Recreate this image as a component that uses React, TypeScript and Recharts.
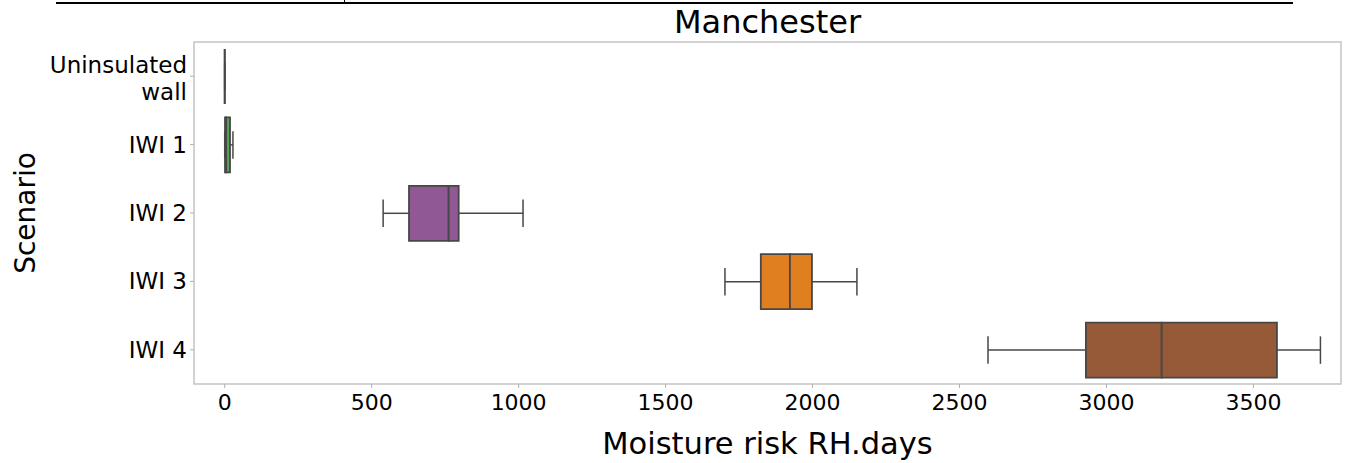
import { Bar, BarChart, Label, ReferenceArea, XAxis, YAxis } from "recharts";

// Box statistics (moisture risk, RH.days)
const scenarios = ["Uninsulated\nwall", "IWI 1", "IWI 2", "IWI 3", "IWI 4"];
const whiskerLow = [0, 0, 539, 1702, 2597];
const quartile1 = [0, 1, 627, 1824, 2930];
const medians = [0, 5, 762, 1923, 3188];
const quartile3 = [0, 18, 796, 1998, 3580];
const whiskerHigh = [0, 28, 1015, 2151, 3728];
const boxColors = ["#477ca8", "#59a257", "#905895", "#df7f20", "#965a38"];
const xTicks = [0, 500, 1000, 1500, 2000, 2500, 3000, 3500];

const EDGE = "#474747";
const FONT = "DejaVu Sans";

const data = scenarios.map((scenario, i) => ({
  scenario,
  base: whiskerLow[i],
  whiskLo: quartile1[i] - whiskerLow[i],
  boxLo: medians[i] - quartile1[i],
  boxHi: quartile3[i] - medians[i],
  whiskHi: whiskerHigh[i] - quartile3[i],
  color: boxColors[i],
}));

function WhiskerLow(props: any) {
  const { x, y, width, height } = props;
  const cy = y + height / 2;
  return (
    <g stroke={EDGE} strokeWidth={1.5}>
      <line x1={x} x2={x + width} y1={cy} y2={cy} />
      <line x1={x} x2={x} y1={cy - height / 4} y2={cy + height / 4} />
    </g>
  );
}

function WhiskerHigh(props: any) {
  const { x, y, width, height } = props;
  const cy = y + height / 2;
  const ex = x + width;
  return (
    <g stroke={EDGE} strokeWidth={1.5}>
      <line x1={x} x2={ex} y1={cy} y2={cy} />
      <line x1={ex} x2={ex} y1={cy - height / 4} y2={cy + height / 4} />
    </g>
  );
}

// path instead of rect so a zero-width box still shows as a line
function BoxHalf(props: any) {
  const { x, y, width, height, payload } = props;
  const d = `M${x},${y}H${x + width}V${y + height}H${x}Z`;
  return <path d={d} fill={payload.color} stroke={EDGE} strokeWidth={1.8} />;
}

function ScenarioTick(props: any) {
  const { x, y, payload } = props;
  const lines = String(payload.value).split("\n");
  const first = lines.length > 1 ? -3 : 8;
  return (
    <text x={x} y={y} textAnchor="end" fontSize={23} fill="#000" fontFamily={FONT}>
      {lines.map((l, i) => (
        <tspan key={i} x={x} dy={i === 0 ? first : 27}>
          {l}
        </tspan>
      ))}
    </text>
  );
}

export default function App() {
  return (
    <div
      style={{
        position: "absolute",
        left: 0,
        top: 0,
        width: 1346,
        height: 463,
        background: "#fff",
        fontFamily: FONT,
      }}
    >
      <svg
        width={1346}
        height={42}
        style={{ position: "absolute", left: 0, top: 0 }}
      >
        <line x1={56} x2={1293} y1={3} y2={3} stroke="#000" strokeWidth={2} />
        <line x1={344.5} x2={344.5} y1={0} y2={3} stroke="#000" strokeWidth={1} />
        <text x={767.5} y={33} textAnchor="middle" fontSize={32} fontFamily={FONT} fill="#000">
          Manchester
        </text>
      </svg>
      <BarChart
        width={1346}
        height={463}
        data={data}
        layout="vertical"
        margin={{ top: 42, right: 5, bottom: 0, left: 0 }}
        barSize={55}
      >
        <ReferenceArea
          x1={-104.5}
          x2={3798}
          fill="none"
          stroke="#c4c4c4"
          strokeWidth={1.5}
          ifOverflow="extendDomain"
        />
        <XAxis
          type="number"
          domain={[-104.5, 3798]}
          ticks={xTicks}
          allowDataOverflow
          height={79}
          axisLine={false}
          tickSize={4}
          tickMargin={6}
          tickLine={{ stroke: "#b0b0b0" }}
          tick={{ fontSize: 22, fill: "#000", fontFamily: FONT }}
        >
          <Label
            content={({ viewBox }: any) => (
              <text
                x={viewBox.x + viewBox.width / 2}
                y={454}
                textAnchor="middle"
                fontSize={30.5}
                fontFamily={FONT}
                fill="#000"
              >
                Moisture risk RH.days
              </text>
            )}
          />
        </XAxis>
        <YAxis
          type="category"
          dataKey="scenario"
          width={194}
          interval={0}
          axisLine={false}
          tickSize={4}
          tickMargin={3}
          tickLine={{ stroke: "#b0b0b0" }}
          tick={<ScenarioTick />}
        >
          <Label
            content={({ viewBox }: any) => {
              const cy = viewBox.y + viewBox.height / 2;
              return (
                <text
                  x={35}
                  y={cy}
                  transform={`rotate(-90, 35, ${cy})`}
                  textAnchor="middle"
                  fontSize={28}
                  fontFamily={FONT}
                  fill="#000"
                >
                  Scenario
                </text>
              );
            }}
          />
        </YAxis>
        {/* stack order = value order: base, lower whisker, box halves, upper whisker */}
        <Bar dataKey="base" stackId="b" fill="none" isAnimationActive={false} />
        <Bar dataKey="whiskLo" stackId="b" shape={<WhiskerLow />} isAnimationActive={false} />
        <Bar dataKey="boxLo" stackId="b" shape={<BoxHalf />} isAnimationActive={false} />
        <Bar dataKey="boxHi" stackId="b" shape={<BoxHalf />} isAnimationActive={false} />
        <Bar dataKey="whiskHi" stackId="b" shape={<WhiskerHigh />} isAnimationActive={false} />
      </BarChart>
    </div>
  );
}
